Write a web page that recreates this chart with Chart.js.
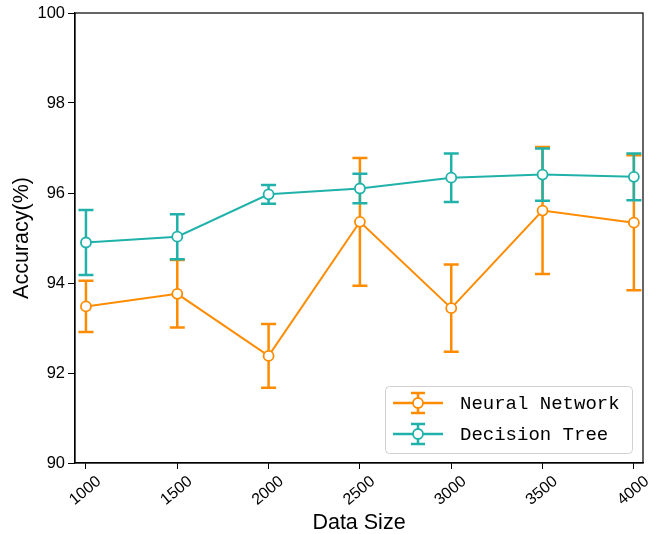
<!DOCTYPE html>
<html>
<head>
<meta charset="utf-8">
<script src="https://cdn.jsdelivr.net/npm/chart.js@4.4.1/dist/chart.umd.min.js"></script>
<style>
  html, body { margin: 0; padding: 0; background: #fff; }
  #wrap { width: 651px; height: 534px; }
</style>
</head>
<body>
<div id="wrap"><canvas id="accChart" width="651" height="534"></canvas></div>
<script>
// data
const dataSizes = [1000, 1500, 2000, 2500, 3000, 3500, 4000];
const nnAcc = [93.48, 93.76, 92.38, 95.36, 93.44, 95.61, 95.34];
const nnErr = [0.57, 0.75, 0.71, 1.42, 0.97, 1.41, 1.50];
const dtAcc = [94.90, 95.03, 95.97, 96.10, 96.34, 96.41, 96.36];
const dtErr = [0.72, 0.50, 0.21, 0.33, 0.54, 0.58, 0.52];
const yTicks = [90, 92, 94, 96, 98, 100];

const ORANGE = '#ff8c00';
const TEAL = '#20b2aa';
const SANS = '"Liberation Sans", Arial, sans-serif';

function toPoints(xs, ys) {
    return xs.map((x, i) => ({ x: x, y: ys[i] }));
}

// error bars drawn just before each dataset so its line + markers sit on top
const errorBars = {
    id: 'errorBars',
    beforeDatasetDraw(chart, args) {
        const ds = chart.data.datasets[args.index];
        if (!ds.errors) return;
        const xs = chart.scales.x, ys = chart.scales.y;
        const ctx = chart.ctx;
        ctx.save();
        ctx.strokeStyle = ds.borderColor;
        ctx.lineWidth = 2.5;
        ds.data.forEach((p, i) => {
            const px = xs.getPixelForValue(p.x);
            const top = ys.getPixelForValue(p.y + ds.errors[i]);
            const bot = ys.getPixelForValue(p.y - ds.errors[i]);
            ctx.beginPath();
            ctx.moveTo(px, top); ctx.lineTo(px, bot);
            ctx.moveTo(px - 7.5, top); ctx.lineTo(px + 7.5, top);
            ctx.moveTo(px - 7.5, bot); ctx.lineTo(px + 7.5, bot);
            ctx.stroke();
        });
        ctx.restore();
    }
};

// box around the plot + legend in lower right
const frameAndLegend = {
    id: 'frameAndLegend',
    afterDraw(chart) {
        const ctx = chart.ctx;
        const a = chart.chartArea;
        ctx.save();
        ctx.strokeStyle = '#000';
        ctx.lineWidth = 1.2;
        ctx.strokeRect(a.left, a.top, a.right - a.left, a.bottom - a.top);

        const w = 247, h = 67;
        const bx = a.right - 11 - w, by = a.bottom - 10 - h;
        ctx.fillStyle = 'rgba(255,255,255,0.85)';
        ctx.strokeStyle = '#d0d0d0';
        ctx.lineWidth = 1;
        ctx.beginPath();
        ctx.roundRect(bx + 0.5, by + 0.5, w, h, 4);
        ctx.fill();
        ctx.stroke();

        chart.data.datasets.forEach((ds, i) => {
            const cy = by + 17 + i * 31;
            const cx = bx + 33;
            ctx.strokeStyle = ds.borderColor;
            ctx.lineWidth = 2.5;
            ctx.beginPath();
            ctx.moveTo(cx - 25, cy); ctx.lineTo(cx + 25, cy);
            ctx.moveTo(cx, cy - 10); ctx.lineTo(cx, cy + 10);
            ctx.moveTo(cx - 7, cy - 10); ctx.lineTo(cx + 7, cy - 10);
            ctx.moveTo(cx - 7, cy + 10); ctx.lineTo(cx + 7, cy + 10);
            ctx.stroke();
            ctx.fillStyle = '#fff';
            ctx.lineWidth = 1.8;
            ctx.beginPath();
            ctx.arc(cx, cy, 5, 0, Math.PI * 2);
            ctx.fill();
            ctx.stroke();
            ctx.fillStyle = '#000';
            ctx.font = '19px "Liberation Mono", "DejaVu Sans Mono", monospace';
            ctx.textBaseline = 'middle';
            ctx.textAlign = 'left';
            ctx.fillText(ds.label, bx + 75, cy + 1);
        });
        ctx.restore();
    }
};

const ctx = document.getElementById('accChart').getContext('2d');
const accChart = new Chart(ctx, {
    type: 'line',
    data: {
        datasets: [
            {
                label: 'Neural Network',
                data: toPoints(dataSizes, nnAcc),
                errors: nnErr,
                borderColor: ORANGE,
                backgroundColor: '#fff',
                borderWidth: 2,
                pointRadius: 5,
                pointBorderWidth: 1.8,
                pointBackgroundColor: '#fff',
                pointBorderColor: ORANGE,
                tension: 0,
                order: 2
            },
            {
                label: 'Decision Tree',
                data: toPoints(dataSizes, dtAcc),
                errors: dtErr,
                borderColor: TEAL,
                backgroundColor: '#fff',
                borderWidth: 2,
                pointRadius: 5,
                pointBorderWidth: 1.8,
                pointBackgroundColor: '#fff',
                pointBorderColor: TEAL,
                tension: 0,
                order: 1
            }
        ]
    },
    options: {
        responsive: false,
        animation: false,
        layout: { padding: { top: 13, right: 8, left: 0, bottom: 0 } },
        plugins: {
            legend: { display: false },
            tooltip: { enabled: false }
        },
        scales: {
            x: {
                type: 'linear',
                min: 940,
                max: 4050,
                afterBuildTicks: s => { s.ticks = dataSizes.map(v => ({ value: v })); },
                afterFit: s => { s.height = 71; },
                grid: { drawOnChartArea: false, drawTicks: true, tickLength: 6, color: '#000' },
                border: { display: true, color: '#000', width: 1.2 },
                ticks: {
                    color: '#000',
                    font: { family: SANS, size: 16 },
                    minRotation: 40,
                    maxRotation: 40,
                    labelOffset: 13,
                    padding: 3,
                    callback: v => String(v)
                },
                title: {
                    display: true,
                    text: 'Data Size',
                    color: '#000',
                    font: { family: SANS, size: 21.5 },
                    padding: { top: 0, bottom: -2 }
                }
            },
            y: {
                min: 90,
                max: 100,
                afterBuildTicks: s => { s.ticks = yTicks.map(v => ({ value: v })); },
                afterFit: s => { s.width = 75; },
                grid: { drawOnChartArea: false, drawTicks: true, tickLength: 7, color: '#000' },
                border: { display: true, color: '#000', width: 1.2 },
                ticks: {
                    color: '#000',
                    font: { family: SANS, size: 16.5 },
                    padding: 3
                },
                title: {
                    display: true,
                    text: 'Accuracy(%)',
                    color: '#000',
                    font: { family: SANS, size: 21.5 },
                    padding: { top: 9, bottom: 4 }
                }
            }
        }
    },
    plugins: [errorBars, frameAndLegend]
});
</script>
</body>
</html>
